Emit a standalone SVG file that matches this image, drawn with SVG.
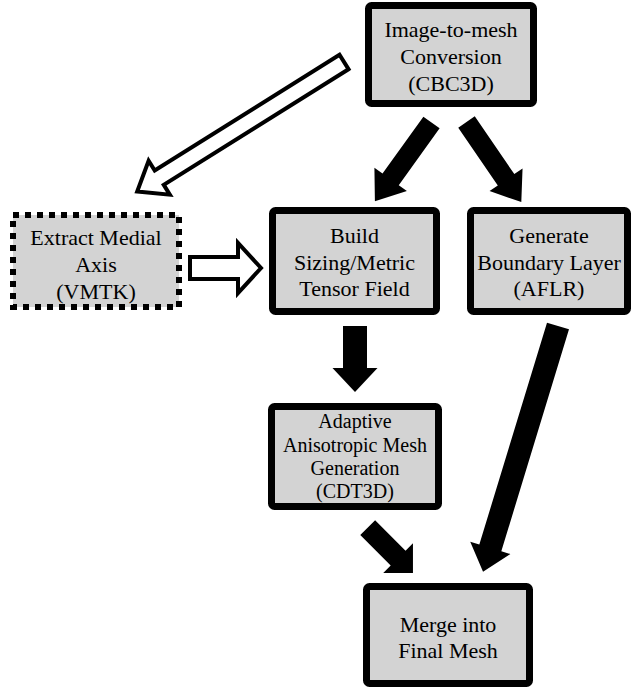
<svg xmlns="http://www.w3.org/2000/svg" width="642" height="690" viewBox="0 0 642 690">
<style>
.box{fill:#d3d3d3;stroke:#000;stroke-width:7}
.dot{fill:#d3d3d3;stroke:#000;stroke-width:6;stroke-dasharray:6 6}
.t{font-family:"Liberation Serif","Times New Roman",serif;font-size:22px;fill:#000;text-anchor:middle}
.s{font-size:20px}
.solid{fill:#000}
.hollow{fill:#fff;stroke:#000;stroke-width:4;stroke-linejoin:miter}
</style>
<rect width="642" height="690" fill="#fff"/>
<g id="connectors">
<polygon class="hollow" transform="translate(344,62) rotate(147.95)" points="0,-8.5 218,-8.5 218,-20 244,0 218,20 218,8.5 0,8.5"/>
<polygon class="hollow" points="190,257 238,257 238,243 261,268 238,293 238,279 190,279"/>
<polygon class="solid" transform="translate(431.5,122.5) rotate(125.7)" points="0,-10 70,-10 70,-20 97,0 70,20 70,10 0,10"/>
<polygon class="solid" transform="translate(466.5,122) rotate(55.6)" points="0,-10 70,-10 70,-20 97,0 70,20 70,10 0,10"/>
<polygon class="solid" transform="translate(355,326) rotate(90)" points="0,-12 42,-12 42,-22.5 66,0 42,22.5 42,12 0,12"/>
<polygon class="solid" transform="translate(367.7,527.7) rotate(45)" points="0,-10.5 43,-10.5 43,-21 64,0 43,21 43,10.5 0,10.5"/>
<polygon class="solid" transform="translate(558,326) rotate(106.96)" points="0,-11.5 232,-11.5 232,-21 257,0 232,21 232,11.5 0,11.5"/>
</g>
<g id="node-image-to-mesh">
<rect class="box" x="368.5" y="5.5" width="165" height="98" rx="3"/>
<text class="t" x="451" y="37">Image-to-mesh</text>
<text class="t" x="451" y="64">Conversion</text>
<text class="t" x="451" y="91">(CBC3D)</text>
</g>
<g id="node-extract">
<rect class="dot" x="13" y="215" width="166" height="92"/>
<text class="t" x="96" y="245">Extract Medial</text>
<text class="t" x="96" y="272">Axis</text>
<text class="t" x="96" y="299">(VMTK)</text>
</g>
<g id="node-build">
<rect class="box" x="272.5" y="210.5" width="164" height="101" rx="3"/>
<text class="t" x="354.5" y="243">Build</text>
<text class="t" x="354.5" y="270">Sizing/Metric</text>
<text class="t" x="354.5" y="296">Tensor Field</text>
</g>
<g id="node-generate">
<rect class="box" x="470.5" y="210.5" width="157" height="101" rx="3"/>
<text class="t" x="549" y="243">Generate</text>
<text class="t" x="549" y="270">Boundary Layer</text>
<text class="t" x="549" y="296">(AFLR)</text>
</g>
<g id="node-adaptive">
<rect class="box" x="271.5" y="406.5" width="167" height="100" rx="3"/>
<text class="t s" x="355" y="428">Adaptive</text>
<text class="t s" x="355" y="452">Anisotropic Mesh</text>
<text class="t s" x="355" y="475">Generation</text>
<text class="t s" x="355" y="498">(CDT3D)</text>
</g>
<g id="node-merge">
<rect class="box" x="366.5" y="586.5" width="163" height="97" rx="3"/>
<text class="t" x="448" y="632">Merge into</text>
<text class="t" x="448" y="658">Final Mesh</text>
</g>
</svg>
